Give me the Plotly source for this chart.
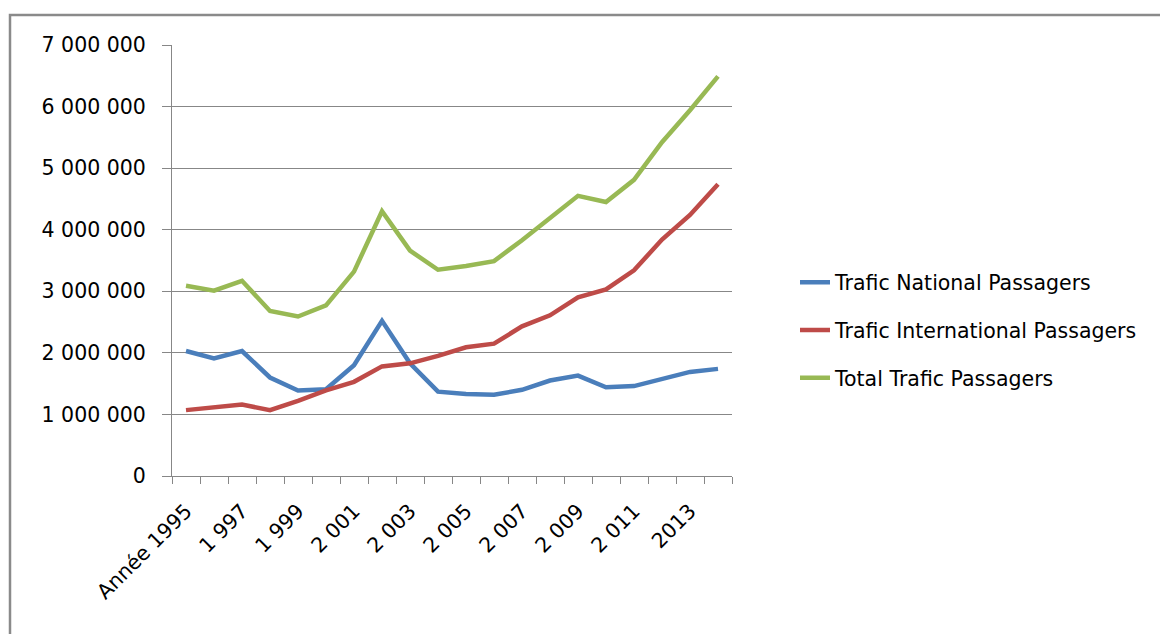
import plotly.graph_objects as go

years = list(range(1995, 2015))
national = [2.03, 1.91, 2.03, 1.60, 1.39, 1.41, 1.80, 2.52, 1.83, 1.37,
            1.33, 1.32, 1.40, 1.55, 1.63, 1.44, 1.46, 1.58, 1.69, 1.74]
international = [1.07, 1.12, 1.16, 1.07, 1.22, 1.39, 1.53, 1.78, 1.83, 1.95,
                 2.09, 2.15, 2.43, 2.61, 2.90, 3.03, 3.34, 3.84, 4.24, 4.74]
total = [3.09, 3.01, 3.17, 2.68, 2.59, 2.77, 3.32, 4.30, 3.66, 3.35,
         3.41, 3.49, 3.83, 4.18, 4.55, 4.45, 4.81, 5.42, 5.94, 6.49]
national = [v * 1e6 for v in national]
international = [v * 1e6 for v in international]
total = [v * 1e6 for v in total]

x_tickvals = [1995, 1997, 1999, 2001, 2003, 2005, 2007, 2009, 2011, 2013]
x_ticktext = ["Année 1995", "1 997", "1 999", "2 001", "2 003", "2 005",
              "2 007", "2 009", "2 011", "2013"]
y_tickvals = [0, 1e6, 2e6, 3e6, 4e6, 5e6, 6e6, 7e6]
y_ticktext = ["0", "1 000 000", "2 000 000", "3 000 000", "4 000 000",
              "5 000 000", "6 000 000", "7 000 000"]

series_names = ["Trafic National Passagers", "Trafic International Passagers",
                "Total Trafic Passagers"]
series_colors = ["#4A7EBB", "#BE4B48", "#98B954"]

FONT = "DejaVu Sans"
FS = 20.5
W, H = 1168, 634
# plot area in figure coordinates (page is offset by the 8px body margin)
L, R, T, B = 164, 724, 37, 468

fig = go.Figure()
for name, vals, col in zip(series_names, [national, international, total], series_colors):
    fig.add_trace(go.Scatter(x=years, y=vals, name=name, mode="lines",
                             legendgroup=name,
                             line=dict(color=col, width=4.5)))

grey = "#878787"
pw, ph = R - L, B - T
fig.update_layout(
    width=W, height=H,
    margin=dict(l=L, r=W - R, t=T, b=H - B, pad=0),
    paper_bgcolor="white", plot_bgcolor="white",
    font=dict(family=FONT, size=FS, color="#000000"),
    showlegend=True,
    legend=dict(x=(787 - L) / pw, y=(B - 322) / ph, xanchor="left", yanchor="middle",
                font=dict(family=FONT, size=FS, color="#000000"),
                tracegroupgap=18, bgcolor="rgba(0,0,0,0)"),
    xaxis=dict(range=[1994.5, 2014.5], tickmode="array",
               tickvals=x_tickvals, ticktext=x_ticktext, tickangle=-45,
               ticks="", showgrid=False, zeroline=False,
               showline=True, linecolor=grey, linewidth=1,
               ticklabelstandoff=14,
               tickfont=dict(family=FONT, size=FS),
               minor=dict(tickmode="linear", tick0=1994.5, dtick=1,
                          ticks="outside", ticklen=7, tickcolor=grey,
                          tickwidth=1, showgrid=False)),
    yaxis=dict(range=[0, 7e6], tickmode="array", tickvals=y_tickvals,
               ticktext=y_ticktext, ticks="outside", ticklen=9,
               tickcolor=grey, tickwidth=1,
               showgrid=True, gridcolor=grey, gridwidth=1,
               zeroline=False, showline=True, linecolor=grey, linewidth=1,
               ticklabelstandoff=12,
               tickfont=dict(family=FONT, size=FS)),
)

# chart-area border (Excel style)
fig.add_shape(type="rect", xref="paper", yref="paper",
              x0=(2 - L) / pw, x1=(W + 20 - L) / pw,
              y0=(B - (H + 20)) / ph, y1=(B - 7) / ph,
              line=dict(color="#8A8A8A", width=2.5), fillcolor="rgba(0,0,0,0)",
              layer="below")

fig.write_html("out.html")
